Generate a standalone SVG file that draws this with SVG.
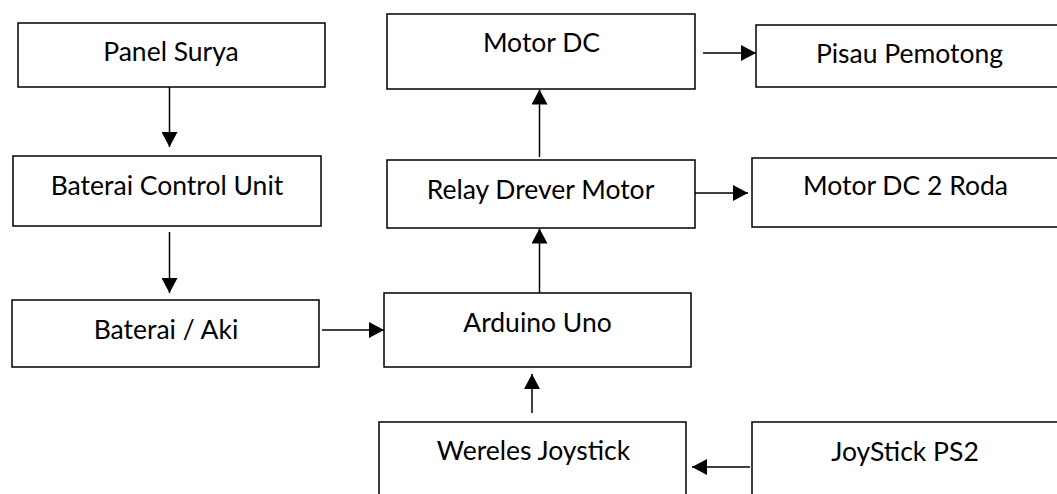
<svg xmlns="http://www.w3.org/2000/svg" width="1057" height="494" viewBox="0 0 1057 494">
<style>
.box{fill:#fff;stroke:#000;stroke-width:1.5}
.lbl{font-family:Lato,"Liberation Sans",sans-serif;font-size:26.5px;fill:#000;text-anchor:middle}
.con{stroke:#000;stroke-width:1.5;fill:none;marker-end:url(#ah)}
</style>
<defs>
<marker id="ah" markerUnits="userSpaceOnUse" markerWidth="16" markerHeight="16" refX="15" refY="8" orient="auto">
<path d="M0,0 L15,8 L0,16 Z" fill="#000"/>
</marker>
</defs>
<rect width="1057" height="494" fill="#fff"/>
<g id="panel-surya"><rect class="box" x="18" y="23" width="307" height="64"/><text class="lbl" x="171" y="61">Panel Surya</text></g>
<g id="baterai-control-unit"><rect class="box" x="13" y="156" width="308" height="70"/><text class="lbl" x="167" y="195">Baterai Control Unit</text></g>
<g id="baterai-aki"><rect class="box" x="12" y="300" width="307" height="67"/><text class="lbl" x="166" y="339">Baterai / Aki</text></g>
<g id="arduino-uno"><rect class="box" x="384" y="293" width="307" height="74"/><text class="lbl" x="537.5" y="332">Arduino Uno</text></g>
<g id="relay-drever-motor"><rect class="box" x="387" y="160" width="308" height="68"/><text class="lbl" x="540.5" y="199">Relay Drever Motor</text></g>
<g id="motor-dc"><rect class="box" x="387" y="14" width="308" height="75"/><text class="lbl" x="541.5" y="52">Motor DC</text></g>
<g id="pisau-pemotong"><rect class="box" x="756" y="25" width="320" height="62"/><text class="lbl" x="909.5" y="63">Pisau Pemotong</text></g>
<g id="motor-dc-2-roda"><rect class="box" x="752" y="158" width="320" height="69"/><text class="lbl" x="905.5" y="195">Motor DC 2 Roda</text></g>
<g id="wereles-joystick"><rect class="box" x="379" y="422" width="307" height="90"/><text class="lbl" x="533.5" y="460">Wereles Joystick</text></g>
<g id="joystick-ps2"><rect class="box" x="752" y="422" width="320" height="90"/><text class="lbl" x="905" y="461">JoyStick PS2</text></g>
<g id="connectors">
<line class="con" x1="169.5" y1="87" x2="169.5" y2="147"/>
<line class="con" x1="169.5" y1="232" x2="169.5" y2="293"/>
<line class="con" x1="322" y1="330" x2="384" y2="330"/>
<line class="con" x1="539.5" y1="293" x2="539.5" y2="228.5"/>
<line class="con" x1="539.5" y1="157" x2="539.5" y2="89.5"/>
<line class="con" x1="703" y1="53" x2="756" y2="53"/>
<line class="con" x1="695" y1="193" x2="748" y2="193"/>
<line class="con" x1="532" y1="413" x2="532" y2="374"/>
<line class="con" x1="750" y1="467" x2="692" y2="467"/>
</g>
</svg>
